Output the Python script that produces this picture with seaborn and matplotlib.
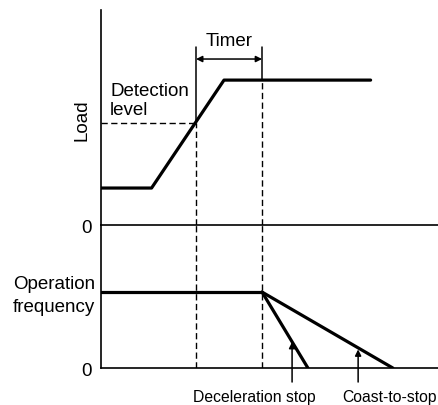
import matplotlib
matplotlib.use("Agg")
import matplotlib.pyplot as plt
import seaborn as sns

sns.set_style("white")
plt.rcParams['font.family'] = ['Liberation Sans', 'DejaVu Sans']
plt.rcParams['text.color'] = 'black'
plt.rcParams['axes.labelcolor'] = 'black'
plt.rcParams['ytick.color'] = 'black'

# time axis 0..10, load panel 0..10, frequency panel 0..10
load_t = [0, 1.5, 3.65, 8.0]
load_v = [1.72, 1.72, 6.74, 6.74]
detect_level = 4.74
t_detect = 2.82      # load crosses the detection level
t_timer_end = 4.78   # timer runs out, stop begins
timer_top = 8.28
timer_arrow_y = 7.72

freq_run = 5.31
freq_t = [0, t_timer_end]
decel_t = [t_timer_end, 6.14]
coast_t = [t_timer_end, 8.66]
stop_v = [freq_run, 0]
decel_arrow_t, coast_arrow_t = 5.67, 7.63

fig = plt.figure(figsize=(4.38, 4.06), dpi=100)
ax1 = fig.add_axes([0.2306, 0.4433, 0.7694, 0.5296])
ax2 = fig.add_axes([0.2306, 0.0911, 0.7694, 0.3522])

thick = 2.3
dash = dict(color='black', lw=1.0, dashes=(4.5, 2.5))

# ---- load panel
sns.lineplot(x=load_t, y=load_v, ax=ax1, color='black', lw=thick, sort=False)
ax1.plot([0, t_detect], [detect_level, detect_level], **dash)
ax1.plot([t_detect, t_detect], [0, detect_level], **dash)
ax1.plot([t_timer_end, t_timer_end], [0, load_v[-1]], **dash)
ax1.plot([t_detect, t_detect], [detect_level, timer_top], color='black', lw=1.1)
ax1.plot([t_timer_end, t_timer_end], [load_v[-1], timer_top], color='black', lw=1.1)
ax1.annotate('', xy=(t_detect, timer_arrow_y), xytext=(t_timer_end, timer_arrow_y),
             arrowprops=dict(arrowstyle='<|-|>', color='black', lw=1.1,
                             mutation_scale=9, shrinkA=0, shrinkB=0))
ax1.text((t_detect + t_timer_end) / 2, 8.56, 'Timer', ha='center', va='center', fontsize=13.5)
ax1.text(0.27, 5.81, 'Detection\nlevel', ha='left', va='center', fontsize=13.5,
         linespacing=1.2)
ax1.set_ylabel('Load', fontsize=13.5)
ax1.yaxis.set_label_coords(-0.032, 0.493)

# ---- frequency panel
sns.lineplot(x=freq_t, y=[freq_run, freq_run], ax=ax2, color='black', lw=thick)
sns.lineplot(x=decel_t, y=stop_v, ax=ax2, color='black', lw=thick)
sns.lineplot(x=coast_t, y=stop_v, ax=ax2, color='black', lw=thick)
ax2.plot([t_detect, t_detect], [0, 10], **dash)
ax2.plot([t_timer_end, t_timer_end], [0, 10], **dash)
for t, tip in [(decel_arrow_t, 1.82), (coast_arrow_t, 1.3)]:
    ax2.annotate('', xy=(t, tip), xytext=(t, -0.98), annotation_clip=False,
                 arrowprops=dict(arrowstyle='-|>', color='black', lw=1.1,
                                 mutation_scale=9, shrinkA=0, shrinkB=0))
ax2.text(4.54, -1.96, 'Deceleration stop', ha='center', va='center', fontsize=11.3,
         clip_on=False)
ax2.text(9.95, -1.96, 'Coast-to-stop', ha='right', va='center', fontsize=11.3,
         clip_on=False)
ax2.text(-0.018, 0.51, 'Operation\nfrequency', transform=ax2.transAxes, ha='right',
         va='center', multialignment='left', fontsize=13.5, linespacing=1.4)

for ax in (ax1, ax2):
    ax.set_xlim(0, 10)
    ax.set_ylim(0, 10)
    ax.set_xticks([])
    ax.set_yticks([0])
    ax.set_yticklabels(['0'], fontsize=13.5)
    ax.tick_params(axis='y', length=0, pad=7)
    ax.set_xlabel('')
    for s in ('top', 'right'):
        ax.spines[s].set_visible(False)
    for s in ('left', 'bottom'):
        ax.spines[s].set_color('black')
        ax.spines[s].set_linewidth(1.2)
    ax.patch.set_alpha(0)

fig.savefig('out.png', dpi=100)
